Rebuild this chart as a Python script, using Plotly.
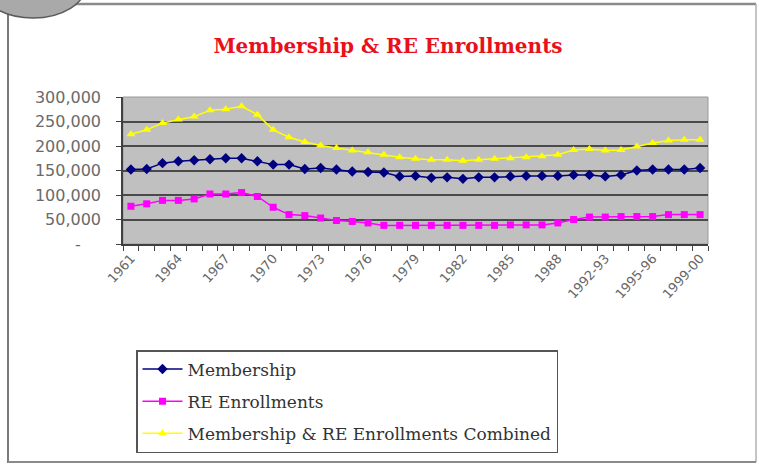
import plotly.graph_objects as go

W, H = 759, 465
L, R, T, B = 123, 708, 97, 244  # plot area in pixels

categories = [str(y) for y in range(1961, 1989)] + [
    "1989-90", "1990-91", "1992-93", "1993-94", "1994-95",
    "1995-96", "1996-97", "1997-98", "1999-00"]

membership = [152000, 153000, 165000, 169000, 171000, 173000, 175000, 175000,
              169000, 162000, 162000, 153000, 155000, 152000, 148000, 147000,
              146000, 138000, 139000, 135000, 136000, 133000, 136000, 136000,
              138000, 139000, 139000, 139000, 141000, 141000, 138000, 141000,
              150000, 152000, 152000, 152000, 155000]

re_enrollments = [77000, 82000, 89000, 89000, 92000, 102000, 102000, 105000,
                  97000, 75000, 60000, 58000, 53000, 48000, 46000, 43000,
                  38000, 38000, 38000, 38000, 38000, 38000, 38000, 38000,
                  39000, 39000, 39000, 43000, 50000, 55000, 55000, 56000,
                  56000, 56000, 60000, 60000, 60000]

combined = [224000, 233000, 247000, 254000, 260000, 273000, 275000, 281000,
            264000, 233000, 218000, 208000, 201000, 196000, 191000, 187000,
            182000, 177000, 174000, 172000, 172000, 170000, 172000, 174000,
            175000, 177000, 179000, 182000, 192000, 194000, 191000, 192000,
            199000, 206000, 211000, 213000, 213000]

shown_labels = categories[::3]
tick_text = [c if c in shown_labels else "" for c in categories]

y_ticks = [0, 50000, 100000, 150000, 200000, 250000, 300000]
y_labels = ["-\u00a0\u00a0\u00a0\u00a0", "50,000", "100,000", "150,000",
            "200,000", "250,000", "300,000"]


def px(x):
    return (x - L) / (R - L)


def py(y):
    return (B - y) / (B - T)


fig = go.Figure()
fig.add_trace(go.Scatter(
    x=categories, y=membership, name="Membership", mode="lines+markers",
    line=dict(color="#000080", width=1.5),
    marker=dict(symbol="diamond", size=8, color="#000080"),
    legendgroup="a"))
fig.add_trace(go.Scatter(
    x=categories, y=re_enrollments, name="RE Enrollments", mode="lines+markers",
    line=dict(color="#ff00ff", width=1.5),
    marker=dict(symbol="square", size=7, color="#ff00ff"),
    legendgroup="b"))
fig.add_trace(go.Scatter(
    x=categories, y=combined, name="Membership & RE Enrollments Combined",
    mode="lines+markers",
    line=dict(color="#ffff00", width=1.5),
    marker=dict(symbol="triangle-up", size=8, color="#ffff00"),
    legendgroup="c"))

shapes = [
    # outer frame
    dict(type="line", xref="paper", yref="paper",
         x0=px(8), x1=px(8), y0=py(10), y1=py(463),
         line=dict(color="#7a7a7a", width=2)),
    dict(type="line", xref="paper", yref="paper",
         x0=px(60), x1=px(756), y0=py(4), y1=py(4),
         line=dict(color="#8a8a8a", width=2.5)),
    dict(type="line", xref="paper", yref="paper",
         x0=px(756), x1=px(756), y0=py(4), y1=py(462),
         line=dict(color="#b0b0b0", width=1.5)),
    dict(type="line", xref="paper", yref="paper",
         x0=px(8), x1=px(756), y0=py(462), y1=py(462),
         line=dict(color="#8a8a8a", width=2)),
    # corner ellipse decoration
    dict(type="circle", xref="paper", yref="paper",
         x0=px(33 - 53), x1=px(33 + 53), y0=py(-15 - 33), y1=py(-15 + 33),
         fillcolor="#a9a9a9", line=dict(color="#5a5a5a", width=1.5)),
    # light border around plot area
    dict(type="rect", xref="paper", yref="paper", x0=0, x1=1, y0=0, y1=1,
         line=dict(color="#9a9a9a", width=1), layer="below"),
]

fig.update_layout(
    width=W, height=H,
    margin=dict(l=L, r=W - R, t=T, b=H - B, autoexpand=False),
    paper_bgcolor="white",
    plot_bgcolor="#c0c0c0",
    title=dict(text="<b>Membership & RE Enrollments</b>",
               font=dict(family="DejaVu Serif", size=20, color="#e8101a"),
               x=388 / W, xanchor="center", xref="container",
               y=1 - 46 / H, yanchor="middle", yref="container"),
    showlegend=True,
    legend=dict(x=px(136), y=py(350), xanchor="left", yanchor="top",
                bordercolor="#555555", borderwidth=1.5, bgcolor="white",
                font=dict(family="DejaVu Serif", size=17, color="#333333"),
                tracegroupgap=7, itemwidth=40),
    shapes=shapes,
    xaxis=dict(type="category", categoryorder="array", categoryarray=categories,
               tickmode="array", tickvals=categories, ticktext=tick_text,
               tickson="boundaries", ticks="outside", ticklen=5,
               tickcolor="#404040", tickwidth=1.2,
               tickangle=-48,
               tickfont=dict(family="DejaVu Sans", size=13, color="#666666"),
               showgrid=False, showline=True, linecolor="#404040", linewidth=1.5,
               mirror=False, range=[-0.5, len(categories) - 0.5], zeroline=False),
    yaxis=dict(range=[0, 300000], tickmode="array", tickvals=y_ticks,
               ticktext=y_labels, ticks="outside", ticklen=5,
               tickcolor="#404040", ticklabelstandoff=12,
               tickfont=dict(family="DejaVu Sans", size=16, color="#6a6a6a"),
               showgrid=True, gridcolor="#4a4a4a", gridwidth=2,
               showline=True, linecolor="#404040", linewidth=1.5,
               zeroline=False),
)

fig.write_html("out.html",
               config={"displayModeBar": False},
               post_script="document.body.style.margin='0';"
                           "document.body.style.overflow='hidden';")
